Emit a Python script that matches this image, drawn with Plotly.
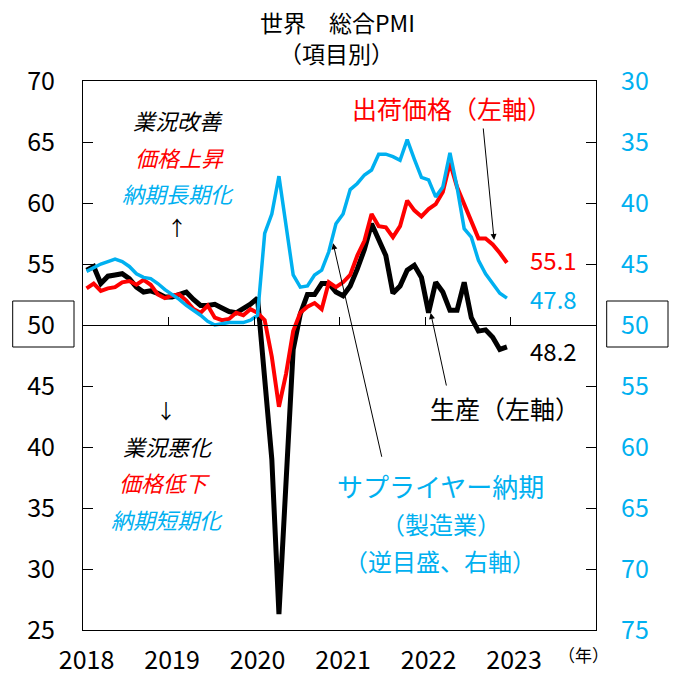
import plotly.graph_objects as go

# ---- data (monthly, 2018-01 .. 2022-12) ----
years = ["2018", "2019", "2020", "2021", "2022", "2023"]

production = [  # 生産（左軸）
    54.5, 54.8, 53.4, 54.0, 54.1, 54.2, 53.8, 53.1, 52.7, 52.8, 52.6, 52.3,
    52.3, 52.5, 52.7, 52.1, 51.6, 51.6, 51.7, 51.4, 51.1, 51.0, 51.3, 51.7,
    52.2, 46.0, 39.0, 26.3, 36.8, 48.0, 50.9, 52.5, 52.5, 53.4, 53.4, 52.7,
    52.4, 53.2, 54.6, 56.2, 58.3, 56.9, 55.7, 52.6, 53.2, 54.5, 54.9, 53.9,
    51.0, 53.5, 52.7, 51.2, 51.2, 53.5, 50.6, 49.5, 49.6, 49.0, 48.0, 48.2,
]
output_prices = [  # 出荷価格（左軸）
    53.0, 53.4, 52.8, 53.0, 53.1, 53.5, 53.6, 53.3, 53.7, 53.3, 52.5, 52.2,
    52.4, 52.5, 52.0, 51.3, 51.0, 51.6, 50.6, 50.4, 50.5, 51.0, 50.8, 51.3,
    51.0, 50.4, 47.4, 43.3, 46.0, 49.5, 51.0, 51.5, 51.8, 51.3, 53.5, 53.1,
    53.5, 54.1, 55.7, 56.9, 59.1, 58.1, 58.0, 57.2, 58.1, 60.2, 59.4, 58.9,
    59.5, 59.9, 60.9, 63.3, 61.3, 59.9, 58.6, 57.1, 57.1, 56.6, 55.9, 55.1,
]
supplier_delivery = [  # サプライヤー納期（製造業、逆目盛、右軸）
    45.6, 45.3, 45.0, 44.8, 44.6, 44.8, 45.2, 45.8, 46.1, 46.2, 46.6, 47.1,
    47.5, 47.9, 48.4, 48.8, 49.2, 49.7, 50.0, 49.9, 49.8, 49.8, 49.8, 49.6,
    49.2, 42.5, 40.9, 37.8, 42.0, 45.9, 46.9, 46.8, 45.9, 45.5, 44.0, 41.7,
    40.9, 38.9, 38.4, 37.7, 37.3, 36.0, 36.0, 36.2, 36.5, 34.8, 36.4, 37.9,
    38.1, 39.5, 38.7, 35.9, 38.7, 42.1, 42.8, 44.7, 45.8, 46.6, 47.4, 47.8,
]

months = list(range(len(production)))
year_pos = [12 * k for k in range(len(years))]
year_bounds = [12 * k - 0.5 for k in range(1, len(years))]

BLUE = "#00B0F0"
RED = "#FF0000"
FONT = "Noto Sans CJK JP"

fig = go.Figure()
fig.add_trace(go.Scatter(x=months, y=production, mode="lines",
                         line=dict(color="black", width=5), name="生産"))
fig.add_trace(go.Scatter(x=months, y=output_prices, mode="lines",
                         line=dict(color=RED, width=4), name="出荷価格"))
fig.add_trace(go.Scatter(x=months, y=supplier_delivery, mode="lines", yaxis="y2",
                         line=dict(color=BLUE, width=3.5), name="サプライヤー納期"))
# invisible trace to carry the 50-line axis
fig.add_trace(go.Scatter(x=[0], y=[50], xaxis="x2", mode="markers",
                         marker=dict(opacity=0), hoverinfo="skip", showlegend=False))

pos50 = (50 - 25) / 45

fig.update_layout(
    template="none",
    width=675, height=678,
    margin=dict(l=83, r=79, t=81, b=48, autoexpand=False),
    paper_bgcolor="white", plot_bgcolor="white",
    showlegend=False,
    font=dict(family=FONT, color="black"),
    xaxis=dict(range=[-0.5, 71.5], tickvals=year_pos, ticktext=years, automargin=False,
               ticks="", showgrid=False, zeroline=False,
               showline=True, mirror=True, linecolor="black", linewidth=1,
               tickfont=dict(size=25, family=FONT), ticklabelstandoff=8),
    xaxis2=dict(range=[-0.5, 71.5], overlaying="x", anchor="free", position=pos50,
                automargin=False,
                tickvals=year_bounds, ticks="inside", ticklen=8, tickcolor="black",
                showticklabels=False, showgrid=False, zeroline=False,
                showline=True, linecolor="black", linewidth=1),
    yaxis=dict(range=[25, 70], dtick=5, ticks="inside", ticklen=10, tickcolor="black",
               automargin=False,
               showgrid=False, zeroline=False, showline=True, mirror="ticks",
               linecolor="black", linewidth=1,
               tickfont=dict(size=25, family=FONT), ticklabelstandoff=22),
    yaxis2=dict(range=[75, 30], dtick=5, overlaying="y", side="right", automargin=False,
                ticks="", showgrid=False, zeroline=False, showline=False,
                tickfont=dict(size=25, family=FONT, color=BLUE), ticklabelstandoff=24),
)

def px_x(px):
    return (px - 83) / 513.0

def px_y(py):
    return (630 - py) / 549.0

# boxes around the "50" labels
for x0, x1 in [(12.7, 74), (606.7, 668)]:
    fig.add_shape(type="rect", xref="paper", yref="paper",
                  x0=px_x(x0), x1=px_x(x1), y0=px_y(347), y1=px_y(301),
                  line=dict(color="black", width=1))

ann = []

def text(s, px, py, size, color="black", italic=False):
    if italic:
        s = f"<i>{s}</i>"
    ann.append(dict(text=s, xref="paper", yref="paper", x=px_x(px), y=px_y(py),
                    xanchor="center", yanchor="middle", showarrow=False,
                    font=dict(size=size, color=color, family=FONT)))

text("世界　総合PMI", 337, 22, 23)
text("（項目別）", 336, 53, 23)
text("業況改善", 178, 120, 22, "black", True)
text("価格上昇", 179, 157, 22, RED, True)
text("納期長期化", 178, 193, 22, BLUE, True)
text("↑", 177, 228, 20)
text("↓", 166, 410, 20)
text("業況悪化", 168, 446, 22, "black", True)
text("価格低下", 165, 482, 22, RED, True)
text("納期短期化", 167, 519, 22, BLUE, True)
text("出荷価格（左軸）", 452, 108, 25, RED)
text("生産（左軸）", 505, 408, 25)
text("サプライヤー納期", 440, 486, 26, BLUE)
text("（製造業）", 441, 523, 24, BLUE)
text("（逆目盛、右軸）", 440, 560, 24, BLUE)
text("（年）", 583, 654, 17)

# last-value labels
ann.append(dict(text=f"{output_prices[-1]:.1f}", x=65.5, y=output_prices[-1] + 0.25,
                xref="x", yref="y", showarrow=False,
                font=dict(size=24, color=RED, family=FONT)))
ann.append(dict(text=f"{supplier_delivery[-1]:.1f}", x=65.5, y=supplier_delivery[-1],
                xref="x", yref="y2", showarrow=False,
                font=dict(size=24, color=BLUE, family=FONT)))
ann.append(dict(text=f"{production[-1]:.1f}", x=65.5, y=production[-1] - 0.25,
                xref="x", yref="y", showarrow=False,
                font=dict(size=24, color="black", family=FONT)))

# pointer arrows
def arrow(hx, hy, ax, ay):
    ann.append(dict(text="", x=hx, y=hy, xref="x", yref="y", ax=ax, ay=ay,
                    showarrow=True, arrowhead=2, arrowsize=1.2, arrowwidth=1,
                    arrowcolor="black", standoff=0))

arrow(57.2, 56.97, -11, -113)
arrow(34.6, 56.7, 49, 215)
arrow(48.3, 50.98, 16, 74)

fig.update_layout(annotations=ann)
fig.write_html("out.html", config={"displayModeBar": False},
               post_script="document.body.style.margin='0px';document.body.style.overflow='hidden';")
